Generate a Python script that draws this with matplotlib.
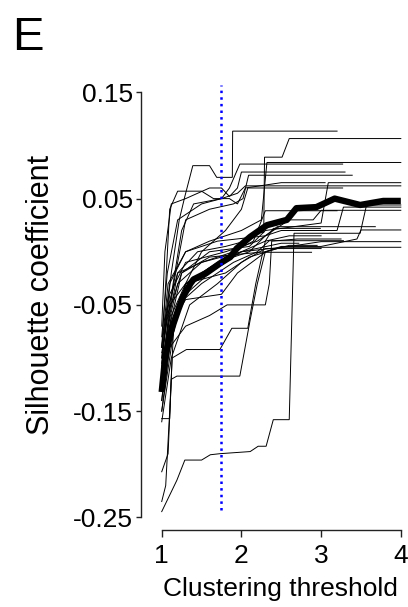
import matplotlib as mpl
mpl.use('Agg')
import matplotlib.pyplot as plt

plt.rcParams['font.family'] = ['Liberation Sans', 'DejaVu Sans']

# clustering threshold -> silhouette coefficient, one run per list of (t, v)
run01 = [(1.0, -0.10), (1.12, -0.02), (1.22, 0.03), (1.29, 0.052), (1.39, 0.081), (1.60, 0.081),
         (1.69, 0.070), (1.886, 0.070), (1.89, 0.1135), (3.20, 0.1135)]
run02 = [(1.0, -0.13), (1.1, -0.06), (1.2, -0.02), (1.45, 0.0), (1.8, 0.005), (2.05, 0.01),
         (2.2, 0.018), (2.28, 0.018), (2.29, 0.089), (2.51, 0.089), (2.60, 0.1065), (4.0, 0.1065)]
run03 = [(1.0, -0.09), (1.08, -0.03), (1.3, 0.0), (1.6, 0.01), (2.0, 0.02), (2.25, 0.03),
         (2.32, 0.084), (4.0, 0.084)]
run04 = [(1.0, -0.12), (1.1, -0.05), (1.25, 0.02), (1.4, 0.045), (1.75, 0.05), (1.85, 0.06),
         (1.98, 0.0825), (3.27, 0.0825)]
run05 = [(1.0, -0.11), (1.15, -0.03), (1.3, 0.03), (1.6, 0.04), (1.9, 0.045), (2.02, 0.05),
         (2.09, 0.072), (3.39, 0.072)]
run06 = [(1.0, -0.14), (1.1, -0.07), (1.25, -0.02), (1.6, 0.0), (2.1, 0.005), (2.3, 0.02),
         (3.0, 0.027), (3.09, 0.065), (4.0, 0.065)]
run07 = [(1.0, -0.08), (1.07, -0.02), (1.2, 0.03), (1.5, 0.045), (1.75, 0.05), (1.95, 0.055),
         (2.05, 0.062), (4.0, 0.062)]
run08 = [(1.0, -0.15), (1.1, -0.09), (1.3, -0.03), (1.5, 0.0), (1.8, 0.02), (2.0, 0.04),
         (2.08, 0.06), (3.27, 0.06)]
run09 = [(1.0, -0.12), (1.12, -0.06), (1.3, -0.03), (1.7, -0.01), (2.1, 0.0), (2.3, 0.015),
         (2.5, 0.02), (3.2, 0.02), (3.28, 0.042), (4.0, 0.042)]
run10 = [(1.0, -0.10), (1.1, -0.04), (1.3, -0.01), (1.8, 0.0), (2.2, 0.01), (2.6, 0.03),
         (2.9, 0.03), (3.0, 0.039), (4.0, 0.039)]
run11 = [(1.0, -0.13), (1.08, -0.07), (1.2, -0.03), (1.5, -0.01), (1.9, 0.0), (2.15, 0.01),
         (2.3, 0.0386), (3.2, 0.0386)]
run12 = [(1.0, -0.09), (1.1, -0.03), (1.3, 0.0), (1.7, 0.01), (2.3, 0.015), (2.45, 0.0236),
         (3.68, 0.0236)]
run13 = [(1.0, -0.14), (1.1, -0.08), (1.3, -0.04), (1.6, -0.02), (2.0, 0.0), (2.3, 0.01),
         (2.4, 0.022), (2.99, 0.022)]
run14 = [(1.0, -0.105), (1.07, -0.06), (1.25, -0.02), (1.6, -0.005), (2.3, 0.0), (2.5, 0.005),
         (3.0, 0.005), (3.45, 0.012), (3.5, 0.0205), (4.0, 0.0205)]
run15 = [(1.0, -0.15), (1.1, -0.10), (1.2, -0.05), (1.5, -0.03), (1.9, -0.01), (2.2, 0.0),
         (2.35, 0.0104), (3.28, 0.0104)]
run16 = [(1.0, -0.11), (1.05, -0.06), (1.2, -0.02), (1.5, -0.01), (2.0, 0.0), (2.6, 0.005),
         (3.0, 0.0095), (4.0, 0.0095)]
run17 = [(1.0, -0.095), (1.1, -0.05), (1.3, -0.03), (1.8, -0.02), (2.1, -0.005), (2.5, 0.0042),
         (4.0, 0.0042)]
run18 = [(1.0, -0.16), (1.12, -0.10), (1.35, -0.05), (1.7, -0.03), (2.0, -0.01), (2.3, 0.003),
         (3.0, 0.003)]
run19 = [(1.0, -0.125), (1.1, -0.07), (1.3, -0.045), (1.75, -0.04), (1.95, -0.02), (2.3, -0.0005),
         (2.88, -0.0005)]
run20 = [(1.0, -0.2445), (1.10, -0.229), (1.19, -0.215), (1.29, -0.196), (1.50, -0.196),
         (1.61, -0.191), (1.73, -0.190), (2.11, -0.188), (2.21, -0.183), (2.31, -0.183),
         (2.40, -0.158), (2.60, -0.158), (2.66, 0.0174), (3.49, 0.0174), (3.57, 0.044), (4.0, 0.044)]
run21 = [(1.0, -0.207), (1.08, -0.19), (1.12, -0.12), (1.19, -0.117), (1.98, -0.117),
         (2.11, -0.064), (2.2, -0.03), (2.3, 0.0), (2.6, 0.006), (2.95, 0.006)]
run22 = [(1.0, -0.235), (1.05, -0.22), (1.1, -0.15), (1.15, -0.07), (1.3, -0.03), (1.6, -0.015),
         (2.0, 0.0), (2.5, 0.008), (2.72, 0.008)]
run23 = [(1.0, -0.157), (1.1, -0.157), (1.13, -0.10), (1.31, -0.092), (1.73, -0.092),
         (1.88, -0.072), (2.08, -0.072), (2.18, -0.03), (2.3, 0.01), (2.6, 0.015), (3.0, 0.015)]
run24 = [(1.0, -0.12), (1.1, -0.09), (1.3, -0.07), (1.6, -0.06), (1.82, -0.05), (2.30, -0.05),
         (2.35, -0.03), (2.38, 0.01), (2.7, 0.012), (3.25, 0.012)]
run25 = [(1.0, -0.07), (1.04, 0.0), (1.12, 0.045), (1.3, 0.05), (1.6, 0.06), (1.75, 0.06),
         (1.85, 0.052), (1.95, 0.06), (2.0, 0.075), (2.45, 0.075), (3.3, 0.075)]
run26 = [(1.0, -0.09), (1.05, -0.03), (1.1, 0.04), (1.2, 0.057), (1.5, 0.057), (1.65, 0.050),
         (1.85, 0.050), (1.95, 0.045), (2.05, 0.06), (2.5, 0.065), (3.05, 0.065)]

runs = [run01, run02, run03, run04, run05, run06, run07, run08, run09, run10, run11, run12, run13,
        run14, run15, run16, run17, run18, run19, run20, run21, run22, run23, run24, run25, run26]

# mean over runs (thick line)
mean_t = [1.0, 1.04, 1.09, 1.15, 1.21, 1.27, 1.36, 1.40, 1.56, 1.73, 1.86, 1.94, 2.11, 2.32,
          2.57, 2.69, 2.94, 3.17, 3.49, 3.61, 3.78, 4.0]
mean_v = [-0.132, -0.102, -0.082, -0.067, -0.054, -0.042, -0.030, -0.026, -0.020, -0.011, -0.005,
          0.003, 0.014, 0.025, 0.030, 0.041, 0.042, 0.050, 0.044, 0.0456, 0.0478, 0.0478]

chosen_threshold = 1.745
xticks = [1, 2, 3, 4]
yticks = [-0.25, -0.15, -0.05, 0.05, 0.15]

fig = plt.figure(figsize=(4.08, 6.07), dpi=100)
ax = fig.add_axes([141 / 408, 77 / 607, 262.2 / 408, 448.3 / 607])

for run in runs:
    ax.plot([p[0] for p in run], [p[1] for p in run], color='black', lw=0.7, solid_joinstyle='miter')
ax.plot(mean_t, mean_v, color='black', lw=4.6, solid_capstyle='butt')
ax.vlines(chosen_threshold, -0.243, 0.157, colors='blue', linestyles=':', lw=1.8)

ax.set_xlim(0.74, 4.03)
ax.set_ylim(-0.2618, 0.16)
for s in ['top', 'right']:
    ax.spines[s].set_visible(False)
ax.spines['left'].set_bounds(-0.25, 0.15)
ax.spines['bottom'].set_bounds(1, 4)
for s in ['left', 'bottom']:
    ax.spines[s].set_linewidth(1.0)
    ax.spines[s].set_color('#222222')
ax.set_xticks(xticks)
ax.set_xticklabels([str(x) for x in xticks])
ax.set_yticks(yticks)
ax.set_yticklabels(['%.2f' % y for y in yticks])
ax.tick_params(axis='x', length=5, width=1.0, color='#222222', labelsize=19, pad=5)
ax.tick_params(axis='y', length=3.5, width=1.0, color='#222222', labelsize=19, pad=2.5)

ax.set_xlabel('Clustering threshold', fontsize=19)
ax.xaxis.set_label_coords(0.532, -0.105)
ax.set_ylabel('Silhouette coefficient', fontsize=22)
ax.yaxis.set_label_coords(-0.325, 0.524)
fig.text(12 / 408, 1 - 50 / 607, 'E', fontsize=34)

fig.savefig('out.png', dpi=100)
